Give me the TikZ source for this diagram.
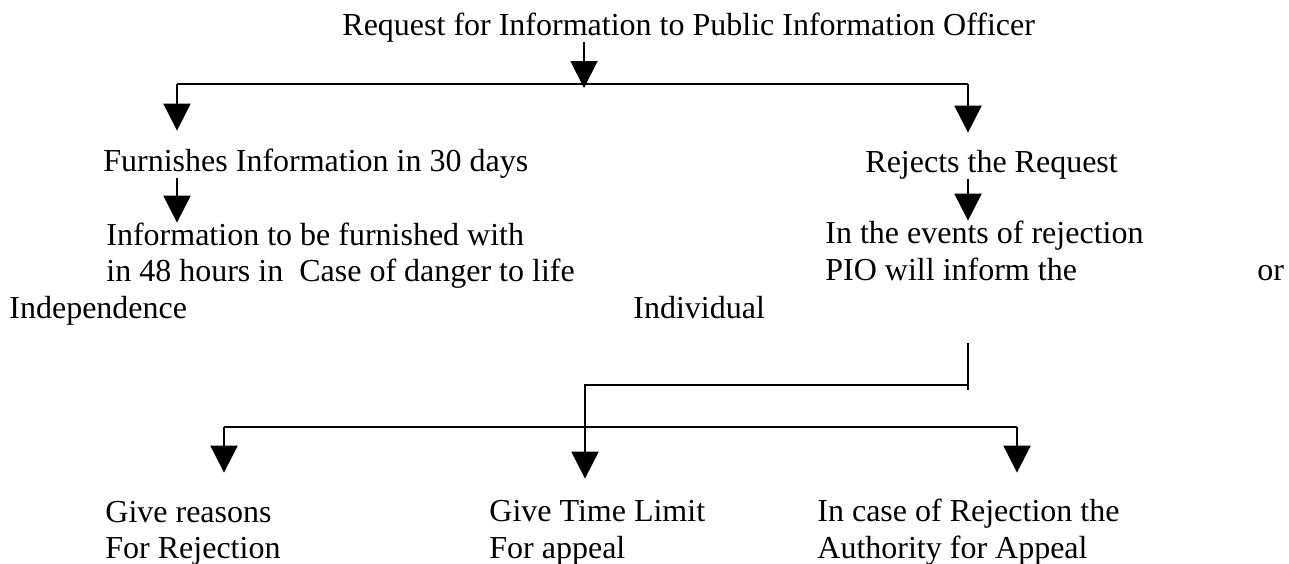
\documentclass[tikz,border=0pt]{standalone}
\usepackage{fontspec}
\setmainfont{Liberation Serif}
\usetikzlibrary{arrows.meta}

\begin{document}
\begin{tikzpicture}[x=0.5pt, y=-0.5pt,
    font=\fontsize{16}{19}\selectfont, >={Triangle[length=13.5pt, width=13.5pt]},
    txt/.style={anchor=base west, inner sep=0pt, text height=11pt, text depth=3.5pt},
    flow/.style={->, line width=1pt},
    wire/.style={line width=1pt}]
  \useasboundingbox (0,0) rectangle (1289,563);
  \node[txt] (req) at (342,35) {Request for Information to Public Information Officer};
  \node[txt] (furn) at (103,171) {Furnishes Information in 30 days};
  \node[txt] (rej) at (865,172) {Rejects the Request};
  \node[txt] (info1) at (106,245) {Information to be furnished with};
  \node[txt] (info2) at (106,281) {in 48 hours in\ \ Case of danger to life};
  \node[txt] (indep) at (9,318) {Independence};
  \node[txt] (evt1) at (825,243) {In the events of rejection};
  \node[txt] (evt2) at (825,280) {PIO will inform the};
  \node[txt] (or) at (1257,280) {or};
  \node[txt] (indiv) at (633,318) {Individual};
  \node[txt] (reason1) at (105,522) {Give reasons};
  \node[txt] (reason2) at (105,558) {For Rejection};
  \node[txt] (time1) at (489,521) {Give Time Limit};
  \node[txt] (time2) at (489,558) {For appeal};
  \node[txt] (auth1) at (817,521) {In case of Rejection the};
  \node[txt] (auth2) at (817,558) {Authority for Appeal};
  % first split
  \coordinate (hub) at (584,88);
  \coordinate (busL) at (177,84);
  \coordinate (busR) at (968,84);
  \draw[flow] (req.south -| hub) -- (hub);
  \draw[wire] (busL) -- (busR);
  \draw[flow] (busL) -- ([yshift=9pt]furn.north -| busL);
  \draw[flow] (busR) -- ([yshift=8.5pt]rej.north -| busR);
  \draw[flow] (furn.south -| busL) -- (info1.north -| busL);
  \draw[flow] (rej.south -| busR) -- (evt1.north -| busR);
  % rejection branch
  \coordinate (drop) at (968,343);
  \coordinate (bend) at (585,385);
  \coordinate (fanL) at (224,427);
  \coordinate (fanR) at (1017,427);
  \draw[wire] (drop) -- ++(0,47);
  \draw[flow] (drop |- bend) -- (bend) -- ([yshift=10pt]time1.north -| bend);
  \draw[wire] (fanL) -- (fanR);
  \draw[flow] (fanL) -- ([yshift=13.5pt]reason1.north -| fanL);
  \draw[flow] (fanR) -- ([yshift=13pt]auth1.north -| fanR);
\end{tikzpicture}
\end{document}
